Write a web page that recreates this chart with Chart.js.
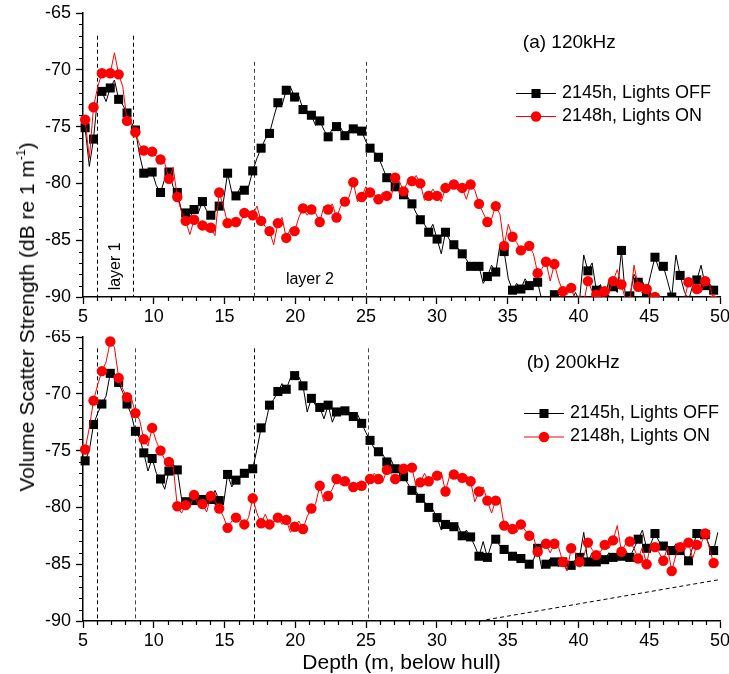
<!DOCTYPE html>
<html><head><meta charset="utf-8">
<script src="https://cdn.jsdelivr.net/npm/chart.js@4/dist/chart.umd.min.js"></script>
<style>
html,body{margin:0;padding:0;background:#fff;}
#wrap{position:relative;width:729px;height:674px;overflow:hidden;font-family:"Liberation Sans",Arial,sans-serif;background:#fff;}
#cTop{position:absolute;left:0;top:0;}
#cBot{position:absolute;left:0;top:330px;}
#ytitle{position:absolute;left:27px;top:317px;transform:translate(-50%,-50%) rotate(-90deg);white-space:nowrap;font-size:21px;color:#000;}
#ytitle sup{font-size:12px;vertical-align:9px;line-height:0;}
</style></head><body>
<div id="wrap">
<canvas id="cTop" width="729" height="330"></canvas>
<canvas id="cBot" width="729" height="344"></canvas>
<div id="ytitle">Volume Scatter Strength (dB re 1 m<sup>-1</sup>)</div>
</div>
<script>
// ---- data ----
const DEPTH_START = 5.15, DEPTH_STEP = 0.296;   // depth sampling grid (m)
const seriesNames = ['2145h, Lights OFF', '2148h, Lights ON'];
const panelTitles = ['(a) 120kHz', '(b) 200kHz'];
const xTitle = 'Depth (m, below hull)';
const xTickValues = [5, 10, 15, 20, 25, 30, 35, 40, 45, 50];
const yTickValues = [-90, -85, -80, -75, -70, -65];

const off120 = [
-75.1,-78.5,-76.1,-72.3,-71.9,-72.8,-71.6,-70.9,-72.6,-73.1,
-73.8,-74.6,-75.3,-77.5,-79.1,-78.8,-79.0,-80.2,-80.8,-79.6,
-79.0,-80.3,-80.8,-82.4,-82.6,-83.0,-82.3,-82.6,-81.6,-82.4,
-82.8,-82.5,-82.0,-81.6,-79.1,-80.8,-81.1,-80.4,-80.6,-80.3,
-78.9,-77.8,-76.9,-76.1,-75.6,-74.2,-72.9,-73.1,-71.8,-71.5,
-72.4,-72.3,-73.5,-73.8,-74.0,-74.9,-74.5,-75.3,-75.9,-75.2,
-75.0,-75.1,-75.8,-75.3,-75.2,-75.6,-75.4,-76.3,-76.9,-77.2,
-77.7,-78.6,-79.5,-79.9,-80.3,-80.5,-81.0,-81.2,-81.8,-82.6,
-83.2,-83.6,-84.3,-83.6,-84.9,-86.2,-84.3,-85.0,-85.4,-85.7,
-86.2,-86.7,-87.3,-87.0,-87.3,-88.8,-88.2,-87.2,-87.8,-85.4,
-86.0,-88.4,-89.4,-88.8,-89.3,-88.4,-89.0,-88.8,-88.7,-90.3,
-90.6,-90.4,-89.8,-90.4,-90.4,-90.5,-90.5,-89.6,-90.3,-86.3,
-87.7,-87.0,-89.4,-88.9,-90.2,-88.5,-89.1,-89.6,-85.9,-90.2,
-89.9,-88.0,-88.7,-88.6,-89.6,-88.0,-86.5,-87.6,-87.3,-88.6,
-90.0,-86.3,-88.1,-89.5,-90.3,-89.0,-88.5,-87.2,-89.0,-88.8,
-89.4,-89.6];

const on120 = [
-74.4,-77.8,-73.3,-71.5,-70.3,-70.3,-70.3,-68.5,-70.4,-71.5,
-74.5,-74.8,-75.5,-76.6,-77.1,-77.0,-77.2,-77.6,-77.9,-78.2,
-79.6,-78.6,-81.2,-82.5,-83.3,-84.5,-83.2,-83.5,-83.7,-84.2,
-83.9,-84.6,-80.8,-82.0,-83.5,-83.7,-83.4,-83.5,-82.6,-82.9,
-82.8,-82.0,-83.3,-83.8,-84.2,-85.4,-83.5,-83.0,-84.8,-84.0,
-84.2,-83.0,-82.2,-82.8,-82.3,-82.6,-83.4,-82.0,-82.3,-81.8,
-83.0,-82.0,-81.6,-81.2,-79.9,-81.6,-81.2,-80.3,-80.8,-81.0,
-81.4,-80.8,-81.1,-81.3,-79.5,-79.8,-80.7,-79.8,-79.8,-79.3,
-80.0,-81.5,-81.1,-80.5,-81.1,-81.6,-80.4,-80.2,-80.1,-80.6,
-80.4,-81.4,-80.1,-80.6,-81.8,-82.6,-83.4,-83.1,-82.0,-82.7,
-85.5,-83.6,-84.7,-85.2,-85.9,-85.9,-85.5,-86.2,-87.9,-87.5,
-86.9,-88.6,-87.1,-88.5,-89.5,-89.8,-89.2,-90.3,-90.4,-90.5,
-88.6,-89.5,-89.8,-90.3,-89.5,-89.6,-88.6,-87.6,-88.9,-90.3,
-90.4,-87.2,-89.1,-89.7,-89.3,-90.4,-90.0,-90.3,-90.5,-90.5,
-90.6,-90.5,-90.5,-90.2,-88.7,-88.8,-89.3,-89.6,-88.6,-88.9,
-90.3,-90.4];

const off200 = [
-75.9,-75.0,-72.7,-71.7,-70.9,-70.2,-68.2,-68.2,-69.0,-69.9,
-70.9,-71.8,-73.3,-73.9,-75.2,-76.8,-75.7,-77.0,-77.5,-78.4,
-76.8,-76.2,-76.7,-79.2,-79.5,-79.4,-79.4,-79.0,-79.3,-79.5,
-79.3,-78.5,-79.4,-79.8,-77.1,-78.2,-77.6,-77.3,-77.0,-77.0,
-76.6,-74.9,-73.0,-72.7,-71.0,-70.5,-69.8,-69.1,-69.6,-68.6,
-68.4,-68.5,-69.3,-71.6,-70.4,-71.0,-71.2,-72.2,-71.0,-72.5,
-71.6,-71.3,-71.5,-71.6,-72.0,-71.8,-72.6,-73.4,-74.1,-74.8,
-75.1,-75.3,-76.0,-75.8,-76.6,-76.8,-77.3,-77.9,-78.5,-78.6,
-79.2,-79.5,-80.0,-80.2,-80.9,-82.0,-81.5,-81.3,-81.7,-81.6,
-82.5,-82.0,-82.6,-83.4,-84.3,-83.0,-84.4,-83.2,-82.8,-83.4,
-83.7,-84.0,-84.3,-84.6,-84.5,-84.9,-85.0,-84.6,-83.6,-85.4,
-85.0,-84.5,-84.8,-85.2,-84.8,-85.5,-85.1,-84.6,-84.4,-82.2,
-84.8,-84.0,-84.8,-84.2,-84.6,-84.0,-84.4,-84.6,-84.3,-83.8,
-84.4,-83.6,-82.8,-82.0,-83.6,-83.2,-82.3,-83.0,-83.4,-84.0,
-83.8,-83.2,-83.8,-84.2,-84.7,-83.5,-82.3,-82.8,-82.4,-83.4,
-83.8,-82.2];

const on200 = [
-74.9,-73.0,-70.6,-69.2,-68.0,-67.2,-65.4,-65.9,-68.6,-69.6,
-70.3,-70.3,-71.7,-72.3,-74.0,-74.6,-73.0,-74.2,-75.0,-75.8,
-76.0,-76.3,-79.9,-80.5,-79.8,-80.0,-78.9,-79.8,-79.7,-80.4,
-79.0,-79.4,-80.1,-80.8,-81.8,-81.2,-80.9,-81.0,-81.5,-80.9,
-79.2,-80.5,-81.4,-80.6,-81.5,-81.3,-80.9,-81.5,-81.1,-82.2,
-81.7,-81.2,-81.9,-80.8,-80.1,-79.7,-78.1,-79.5,-79.0,-78.4,
-77.5,-78.0,-77.7,-78.0,-78.2,-77.8,-78.1,-77.8,-77.5,-77.0,
-77.5,-77.8,-76.7,-77.0,-77.5,-77.3,-76.6,-76.3,-76.5,-78.2,
-77.8,-77.0,-77.7,-77.2,-77.2,-76.9,-78.6,-77.2,-77.1,-77.5,
-77.4,-77.2,-77.7,-79.5,-78.6,-78.2,-79.4,-80.5,-79.4,-79.3,
-81.6,-81.8,-81.9,-82.2,-81.5,-82.0,-82.5,-82.6,-83.9,-83.5,
-83.2,-84.0,-83.2,-83.5,-84.8,-85.6,-83.6,-84.0,-84.8,-84.3,
-83.1,-83.7,-84.2,-83.9,-83.3,-83.6,-82.9,-81.6,-83.9,-83.2,
-83.0,-83.6,-84.5,-83.5,-85.0,-83.2,-83.5,-84.0,-84.7,-83.5,
-85.6,-84.2,-83.5,-83.8,-83.1,-84.5,-83.3,-83.2,-82.3,-83.6,
-84.9,-84.6];

// layer boundary lines: [depth, top value]
const layerLines120 = [[6.0, -67.0], [8.5, -67.0], [17.1, -69.3], [25.0, -69.3]];
const layerLines200 = [[6.0, -66.0], [8.65, -66.0], [17.1, -66.0], [25.15, -66.0]];
const trendLine200 = [[33.0, -90.0], [50.0, -86.35]];
const layerLabels = [{text: 'layer 1', x: 7.33, y: -87.3, rot: true}, {text: 'layer 2', x: 21.03, y: -88.45, rot: false}];

const depths = off120.map((_, i) => +(DEPTH_START + DEPTH_STEP * i).toFixed(3));

// ---- drawing ----
const FONT = '"Liberation Sans", Arial, sans-serif';
Chart.defaults.color = '#000';
Chart.defaults.font.family = FONT;
const SQ_R = 6.4, CI_R = 5.2;

function mkDs(label, vals, color, style, r, order) {
  return {
    label, order,
    data: vals.map((v, i) => ({x: depths[i], y: v})),
    borderColor: color, backgroundColor: color, borderWidth: 1,
    pointStyle: style,
    pointRadius: c => (c.dataIndex % 2 === 0 ? r : 0),
    pointHoverRadius: 0, pointBorderWidth: 0, pointBackgroundColor: color,
    tension: 0, clip: {left: 7, right: 7, top: 7, bottom: 0}
  };
}

function annotPlugin(cfg) {
  return {
    id: 'annot' + cfg.key,
    beforeDatasetsDraw(chart) {
      const ctx = chart.ctx, xs = chart.scales.x, ys = chart.scales.y;
      ctx.save();
      ctx.lineWidth = 1;
      ctx.setLineDash([4, 3]);
      cfg.lines.forEach(([x, top], k) => {
        ctx.strokeStyle = cfg.lineColors[k];
        const px = Math.round(xs.getPixelForValue(x)) + 0.5;
        ctx.beginPath();
        ctx.moveTo(px, ys.getPixelForValue(top));
        ctx.lineTo(px, ys.getPixelForValue(-90));
        ctx.stroke();
      });
      if (cfg.trend) {
        ctx.strokeStyle = '#000';
        ctx.beginPath();
        ctx.moveTo(xs.getPixelForValue(cfg.trend[0][0]), ys.getPixelForValue(cfg.trend[0][1]));
        ctx.lineTo(xs.getPixelForValue(cfg.trend[1][0]), ys.getPixelForValue(cfg.trend[1][1]));
        ctx.stroke();
      }
      ctx.restore();
    },
    afterDraw(chart) {
      const ctx = chart.ctx, xs = chart.scales.x, ys = chart.scales.y, ca = chart.chartArea;
      ctx.save();
      // minor ticks
      ctx.strokeStyle = '#000';
      ctx.lineWidth = 1.2;
      ctx.beginPath();
      for (let v = 6; v < 50; v++) {
        if (v % 5 === 0) continue;
        const px = Math.round(xs.getPixelForValue(v)) + 0.5;
        ctx.moveTo(px, ca.bottom); ctx.lineTo(px, ca.bottom + 4);
      }
      for (let v = -89; v < -65; v++) {
        if (v % 5 === 0) continue;
        const py = Math.round(ys.getPixelForValue(v)) + 0.5;
        ctx.moveTo(ca.left, py); ctx.lineTo(ca.left - 4, py);
      }
      ctx.stroke();
      // panel title
      ctx.fillStyle = '#000';
      ctx.textBaseline = 'middle';
      ctx.textAlign = 'left';
      ctx.font = '19px ' + FONT;
      ctx.fillText(cfg.title, xs.getPixelForValue(cfg.titlePos[0]), ys.getPixelForValue(cfg.titlePos[1]));
      // layer labels
      if (cfg.labels) {
        ctx.font = '16px ' + FONT;
        ctx.textAlign = 'center';
        cfg.labels.forEach(l => {
          const px = xs.getPixelForValue(l.x), py = ys.getPixelForValue(l.y);
          if (l.rot) {
            ctx.save(); ctx.translate(px, py); ctx.rotate(-Math.PI / 2);
            ctx.fillText(l.text, 0, 0); ctx.restore();
          } else ctx.fillText(l.text, px, py);
        });
      }
      // legend
      ctx.font = '18px ' + FONT;
      ctx.textAlign = 'left';
      const L = cfg.legend;
      chart.data.datasets.forEach((d, k) => {
        const y = L.y[k];
        ctx.strokeStyle = d.borderColor; ctx.lineWidth = 1;
        ctx.beginPath(); ctx.moveTo(L.x0, y + 0.5); ctx.lineTo(L.x1, y + 0.5); ctx.stroke();
        ctx.fillStyle = d.borderColor;
        Chart.helpers.drawPoint(ctx, {pointStyle: d.pointStyle, radius: d.legendRadius, borderWidth: 0, rotation: 0}, (L.x0 + L.x1) / 2, y + 0.5);
        ctx.fillStyle = '#000';
        ctx.fillText(d.label, L.xt, y);
      });
      ctx.restore();
    }
  };
}

function makeChart(id, cfg) {
  const dsOff = mkDs(seriesNames[0], cfg.off, '#000000', 'rect', SQ_R, 2);
  const dsOn = mkDs(seriesNames[1], cfg.on, '#ff0000', 'circle', CI_R, 1);
  dsOff.legendRadius = SQ_R; dsOn.legendRadius = CI_R;
  const axisCommon = {
    grid: {drawOnChartArea: false, drawTicks: true, tickLength: 7, tickColor: '#000', tickWidth: 1.3},
    border: {display: true, color: '#000', width: 1.5}
  };
  return new Chart(document.getElementById(id), {
    type: 'line',
    data: {datasets: [dsOff, dsOn]},
    options: {
      responsive: false, animation: false, events: [],
      layout: {padding: {top: cfg.padTop, right: 9, left: 0, bottom: 0}},
      plugins: {legend: {display: false}, tooltip: {enabled: false}},
      scales: {
        x: Object.assign({
          type: 'linear', min: 5, max: 50,
          afterBuildTicks: s => { s.ticks = xTickValues.map(v => ({value: v})); },
          ticks: {font: {size: 18, family: FONT}, color: '#000', padding: 2, maxRotation: 0, autoSkip: false},
          title: cfg.showTitle ? {display: true, text: xTitle, color: '#000', font: {size: 21, family: FONT, lineHeight: 1}, padding: {top: 0, bottom: 0.5}} : {display: false},
          afterFit: s => { s.height = cfg.xHeight; s.paddingLeft = 0; s.paddingRight = 0; }
        }, axisCommon),
        y: Object.assign({
          type: 'linear', min: -90, max: -65,
          afterBuildTicks: s => { s.ticks = yTickValues.map(v => ({value: v})); },
          ticks: {font: {size: 18, family: FONT}, color: '#000', padding: 5},
          afterFit: s => { s.width = 83; s.paddingTop = 0; s.paddingBottom = 0; }
        }, axisCommon)
      }
    },
    plugins: [annotPlugin(cfg)]
  });
}

makeChart('cTop', {
  key: 'a', off: off120, on: on120, padTop: 13, xHeight: 33, showTitle: false,
  lines: layerLines120, lineColors: ['#000', '#000', '#444', '#444'], trend: null,
  title: panelTitles[0], titlePos: [36.07, -67.64], labels: layerLabels,
  legend: {x0: 516, x1: 556, xt: 562, y: [93, 116]}
});
makeChart('cBot', {
  key: 'b', off: off200, on: on200, padTop: 7, xHeight: 53, showTitle: true,
  lines: layerLines200, lineColors: ['#000', '#444', '#000', '#444'], trend: trendLine200,
  title: panelTitles[1], titlePos: [36.35, -67.26], labels: null,
  legend: {x0: 524, x1: 564, xt: 570, y: [83, 106.5]}
});
</script>
</body></html>
